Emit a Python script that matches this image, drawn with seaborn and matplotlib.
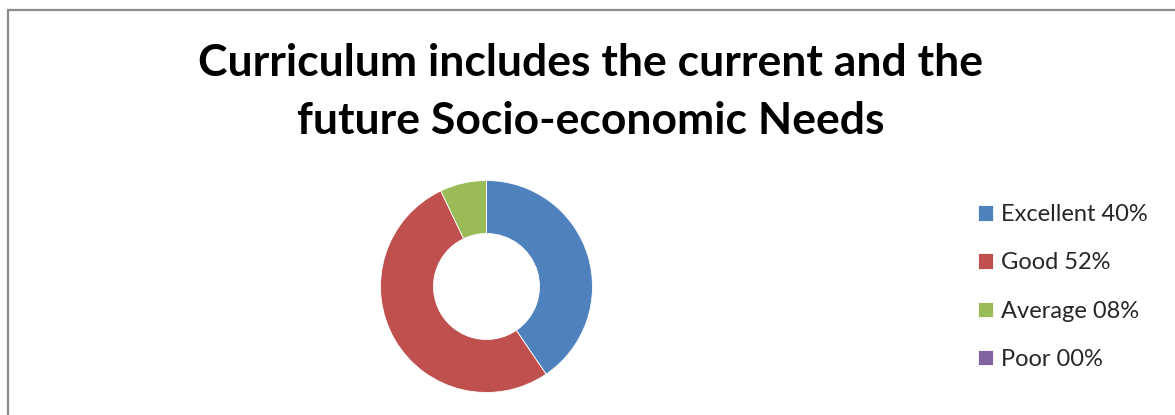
import matplotlib
matplotlib.use('Agg')
import matplotlib.pyplot as plt
import seaborn as sns
from matplotlib.patches import Rectangle

# datos del grafico
categorias = ['Excellent', 'Good', 'Average', 'Poor']
etiquetas = ['Excellent 40%', 'Good 52%', 'Average 08%', 'Poor 00%']
porcentajes = [40.5, 52.4, 7.1, 0.0]
colores = ['#4F81BD', '#C0504D', '#9BBB59', '#8064A2']
titulo = 'Curriculum includes the current and the\nfuture Socio-economic Needs'

sns.set_theme(style='white')
plt.rcParams['font.family'] = ['Lato', 'DejaVu Sans']

W, H = 1175, 415
fig = plt.figure(figsize=(W / 100, H / 100), dpi=100)
fig.patch.set_facecolor('white')

# marco gris (recortado a la derecha y abajo)
fig.add_artist(Rectangle((7.5 / W, -0.1), 1.2, (H - 10) / H + 0.1, transform=fig.transFigure,
                         fill=False, edgecolor='#8c8c8c', linewidth=1.6))

fig.text(591 / W, 1 - 92 / H, titulo, ha='center', va='center', fontsize=32,
         fontweight='bold', color='black', linespacing=1.52)

# dona
cx, cy, r = 486.5, 286.5, 106
ax = fig.add_axes([(cx - r) / W, (H - cy - r) / H, 2 * r / W, 2 * r / H])
wedges, _ = ax.pie(porcentajes, colors=sns.color_palette(colores), startangle=90,
                   counterclock=False, radius=1,
                   wedgeprops=dict(width=0.5, edgecolor='white', linewidth=0.6))
ax.set_xlim(-1, 1)
ax.set_ylim(-1, 1)
ax.set_aspect('equal')
ax.axis('off')

fig.legend(wedges, etiquetas, loc='center left', bbox_to_anchor=(969 / W, 1 - 287 / H),
           frameon=False, fontsize=17, handlelength=0.62, handleheight=0.62,
           handletextpad=0.34, labelspacing=1.15, borderaxespad=0)

plt.savefig('out.png', dpi=100)
